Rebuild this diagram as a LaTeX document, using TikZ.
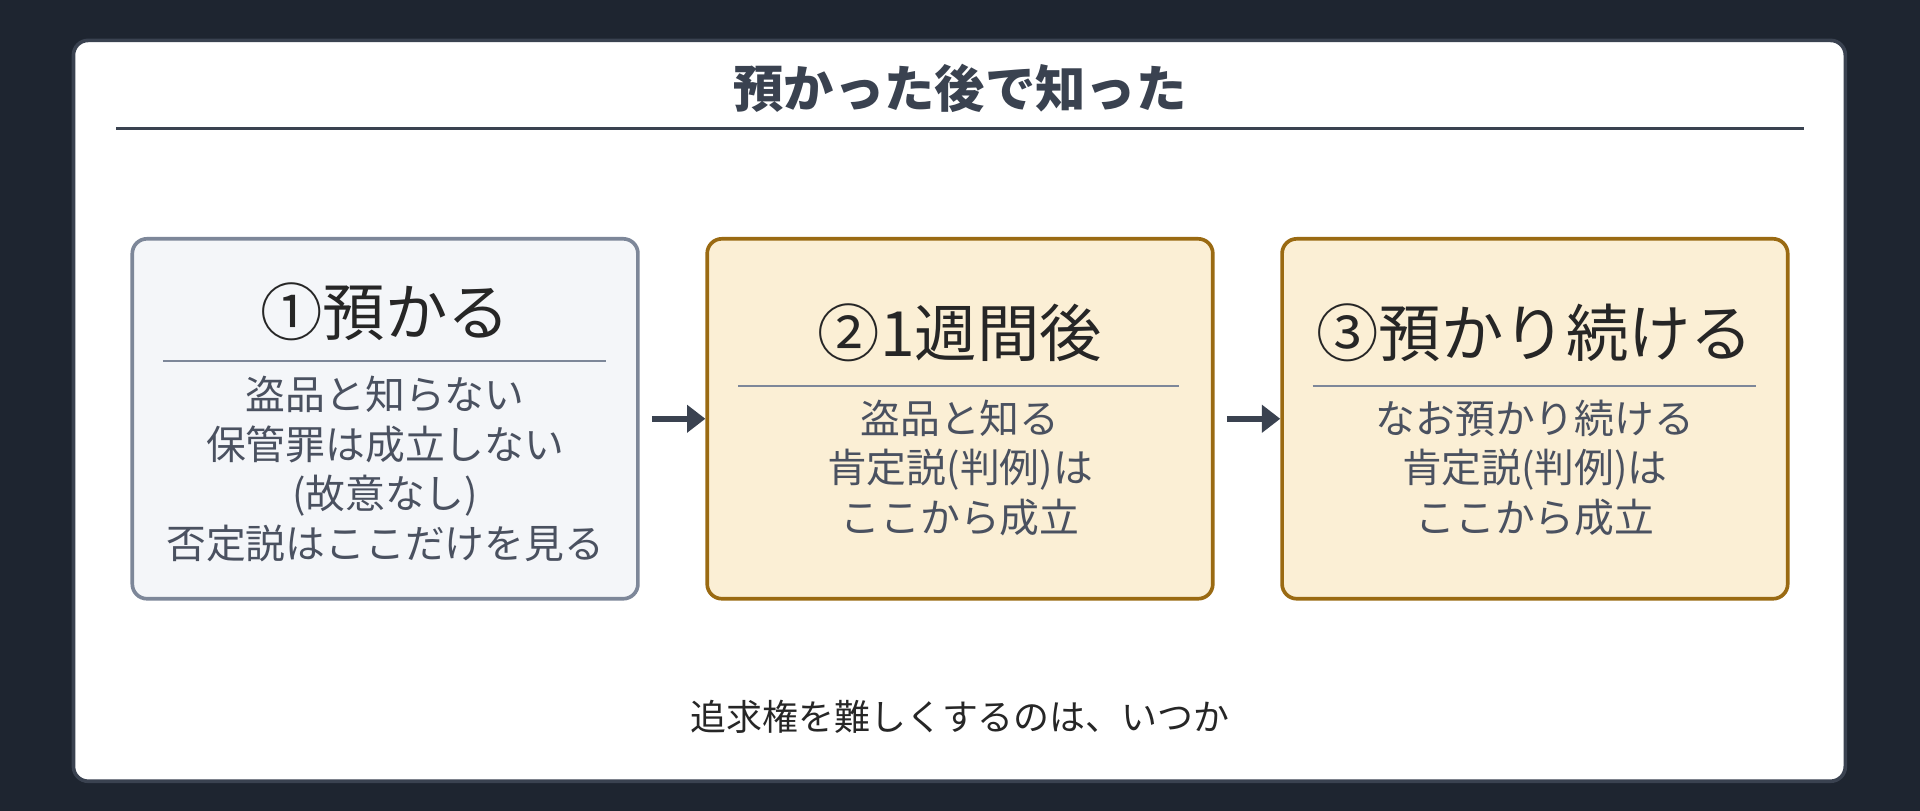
\documentclass[tikz,border=0pt]{standalone}
\usepackage{fontspec}
\setmainfont{Noto Sans CJK JP}
\usetikzlibrary{positioning,arrows.meta}
\definecolor{bgdark}{HTML}{1E2530}
\definecolor{edgedark}{HTML}{3A4250}
\definecolor{txtgray}{HTML}{4A5160}
\definecolor{plainfill}{HTML}{F4F6F9}
\definecolor{plainedge}{HTML}{7D8799}
\definecolor{warmfill}{HTML}{FBEFD5}
\definecolor{warmedge}{HTML}{9A6A12}
\begin{document}
\begin{tikzpicture}[x=0.02cm, y=-0.02cm,
    stage/.style={rectangle, rounded corners=0.24cm, line width=1.7pt, minimum width=8.26cm, minimum height=5.88cm},
    plain/.style={stage, draw=plainedge, fill=plainfill},
    warm/.style={stage, draw=warmedge, fill=warmfill},
    head/.style={font=\fontsize{29}{34}\selectfont, text=black!85},
    body/.style={font=\fontsize{18.5}{23}\selectfont, text=txtgray, align=center},
    sep/.style={draw=plainedge, line width=0.8pt},
    arrow/.style={-{Triangle[length=0.3cm,width=0.44cm]}, line width=2.8pt, draw=edgedark}
]

% Background and card
\fill[bgdark] (0,0) rectangle (1568,662);
\draw[edgedark, fill=white, line width=1.7pt, rounded corners=0.24cm] (60,33) rectangle (1507,638);

% Title
\node[font=\fontsize{23.4}{28}\selectfont\bfseries, text=edgedark] (title) at (784,72) {預かった後で知った};
\draw[edgedark, line width=1.1pt] (95,105) -- (1473,105);

% Stages
\node[plain] (s1) at (314.5,342) {};
\node[warm] (s2) at (784,342) {};
\node[warm] (s3) at (1253.5,342) {};

\node[head] (h1) at (314.5,255) {①預かる};
\draw[sep] (133,295) -- (495,295);
\node[body] (b1) at (314.5,383) {盗品と知らない\\保管罪は成立しない\\(故意なし)\\否定説はここだけを見る};

\node[head] (h2) at (784,272) {②1週間後};
\draw[sep] (603,315) -- (963,315);
\node[body] (b2) at (784,382) {盗品と知る\\肯定説(判例)は\\ここから成立};

\node[head] (h3) at (1253.5,272) {③預かり続ける};
\draw[sep] (1072,315) -- (1434,315);
\node[body] (b3) at (1253.5,382) {なお預かり続ける\\肯定説(判例)は\\ここから成立};

% Arrows
\draw[arrow] ([xshift=0.2cm]s1.east) -- (s2.west);
\draw[arrow] ([xshift=0.2cm]s2.east) -- (s3.west);

% Bottom note
\node[font=\fontsize{16.7}{20}\selectfont, text=black!85] (note) at (784,585) {追求権を難しくするのは、いつか};

\end{tikzpicture}
\end{document}
